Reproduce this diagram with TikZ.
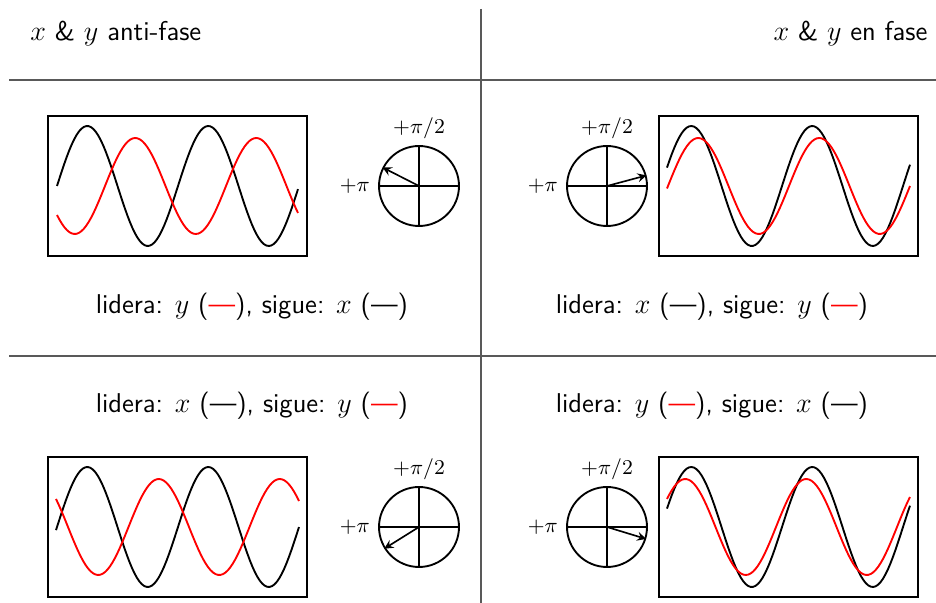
\documentclass[tikz,border=0pt]{standalone}
\usepackage{xcolor}
\usetikzlibrary{arrows,positioning}

\begin{document}
\begin{tikzpicture}[
    x=0.015cm, y=-0.015cm,
    every node/.style={font=\sffamily\fontsize{11.6}{14}\selectfont},
    divider/.style={draw=black!65, line width=1.1pt},
    wavebox/.style={rectangle, draw, line width=0.9pt, minimum width=3.885cm, minimum height=2.1cm, inner sep=0pt},
    phasor/.style={circle, draw, line width=0.8pt, minimum size=1.2cm, inner sep=0pt},
    cross/.style={line width=0.8pt},
    anglelabel/.style={font=\small},
    xwave/.style={line width=0.8pt, black},
    ywave/.style={line width=0.8pt, red},
    arrow/.style={->, >=stealth, line width=0.7pt}
]
    \useasboundingbox (0,0) rectangle (936,603);

    % cabeceras
    \node[anchor=west, inner sep=0pt] (hdranti) at (30,34) {$x$ \& $y$ anti-fase};
    \node[anchor=east, inner sep=0pt] (hdrfase) at (928,34) {$x$ \& $y$ en fase};

    % divisiones
    \draw[divider] (9,80) -- (936,80);
    \draw[divider] (9,356) -- (936,356);
    \draw[divider] (481,9) -- (481,603);

    % anti-fase, arriba
    \node[wavebox] (tlbox) at (177.5,186) {};
    \node[phasor] (tlph) at (419,186) {};
    \node[anglelabel, above=-0.03cm of tlph] (tlhalf) {$+\pi/2$};
    \node[anglelabel, left=0cm of tlph] (tlpi) {$+\pi$};
    \draw[cross] (tlph.west) -- (tlph.east);
    \draw[cross] (tlph.north) -- (tlph.south);
    \draw[arrow] (tlph.center) -- (tlph.153);
    \draw[xwave] plot[domain=57:298, samples=100] (\x, {186-60*sin(2.975*(\x-57))});
    \draw[ywave] plot[domain=57:298, samples=100] (\x, {186-48*sin(2.975*(\x-105))});
    \node (tltext) at (252,307) {lidera: $y$ (\textcolor{red}{---}), sigue: $x$ (---)};

    % en fase, arriba
    \node[wavebox] (trbox) at (788.5,186) {};
    \node[phasor] (trph) at (607,186) {};
    \node[anglelabel, above=-0.03cm of trph] (trhalf) {$+\pi/2$};
    \node[anglelabel, left=0cm of trph] (trpi) {$+\pi$};
    \draw[cross] (trph.west) -- (trph.east);
    \draw[cross] (trph.north) -- (trph.south);
    \draw[arrow] (trph.center) -- (trph.15);
    \draw[xwave] plot[domain=667:910, samples=100] (\x, {186-60*sin(2.975*(\x-661))});
    \draw[ywave] plot[domain=667:910, samples=100] (\x, {186-48*sin(2.975*(\x-668))});
    \node (trtext) at (712,307) {lidera: $x$ (---), sigue: $y$ (\textcolor{red}{---})};

    % anti-fase, abajo
    \node (bltext) at (252,406) {lidera: $x$ (---), sigue: $y$ (\textcolor{red}{---})};
    \node[wavebox] (blbox) at (177.5,527) {};
    \node[phasor] (blph) at (419,527) {};
    \node[anglelabel, above=-0.03cm of blph] (blhalf) {$+\pi/2$};
    \node[anglelabel, left=0cm of blph] (blpi) {$+\pi$};
    \draw[cross] (blph.west) -- (blph.east);
    \draw[cross] (blph.north) -- (blph.south);
    \draw[arrow] (blph.center) -- (blph.212);
    \draw[xwave] plot[domain=56:299, samples=100] (\x, {527-60*sin(2.975*(\x-57))});
    \draw[ywave] plot[domain=56:299, samples=100] (\x, {527-48*sin(2.975*(\x-7.5))});

    % en fase, abajo
    \node (brtext) at (712,406) {lidera: $y$ (\textcolor{red}{---}), sigue: $x$ (---)};
    \node[wavebox] (brbox) at (788.5,527) {};
    \node[phasor] (brph) at (607,527) {};
    \node[anglelabel, above=-0.03cm of brph] (brhalf) {$+\pi/2$};
    \node[anglelabel, left=0cm of brph] (brpi) {$+\pi$};
    \draw[cross] (brph.west) -- (brph.east);
    \draw[cross] (brph.north) -- (brph.south);
    \draw[arrow] (brph.center) -- (brph.-17);
    \draw[xwave] plot[domain=667:910, samples=100] (\x, {527-60*sin(2.975*(\x-661))});
    \draw[ywave] plot[domain=667:910, samples=100] (\x, {527-48*sin(2.975*(\x-655))});
\end{tikzpicture}
\end{document}
